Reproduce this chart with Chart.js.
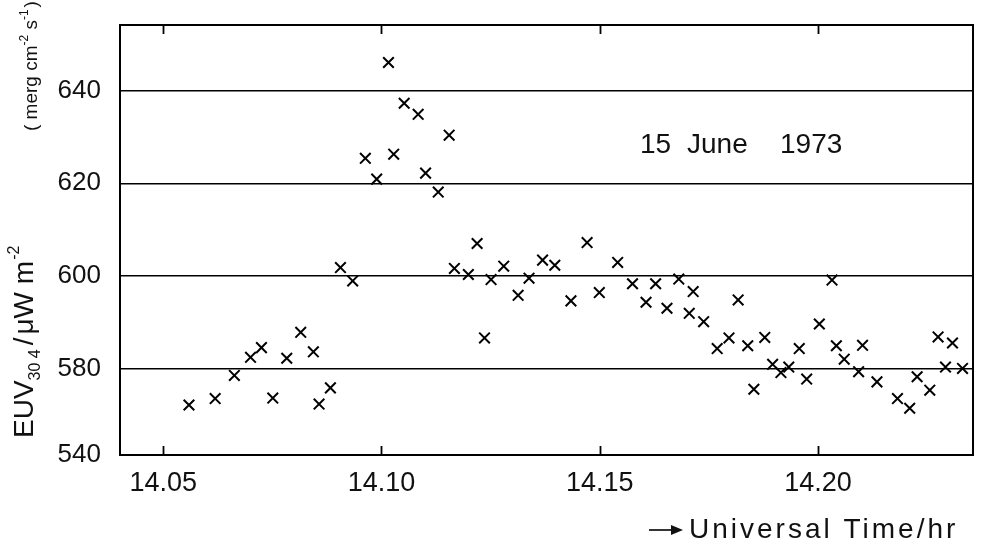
<!DOCTYPE html>
<html>
<head>
<meta charset="utf-8">
<script src="https://cdn.jsdelivr.net/npm/chart.js@4/dist/chart.umd.min.js"></script>
<style>
  html, body { margin: 0; padding: 0; background: #fff; }
  #chart { display: block; }
</style>
</head>
<body>
<canvas id="chart" width="994" height="559"></canvas>
<script>
// Universal time (hr) and EUV 304 flux readings
const times = [
  14.0559, 14.0619, 14.0663, 14.0700, 14.0725, 14.0751, 14.0783, 14.0815,
  14.0844, 14.0857, 14.0883, 14.0906, 14.0934, 14.0963, 14.0989, 14.1016,
  14.1028, 14.1052, 14.1084, 14.1101, 14.1130, 14.1155, 14.1167, 14.1199,
  14.1219, 14.1236, 14.1251, 14.1280, 14.1313, 14.1338, 14.1369, 14.1397,
  14.1434, 14.1471, 14.1499, 14.1541, 14.1575, 14.1606, 14.1628, 14.1654,
  14.1681, 14.1705, 14.1714, 14.1738, 14.1769, 14.1796, 14.1817, 14.1839,
  14.1853, 14.1878, 14.1896, 14.1915, 14.1933, 14.1957, 14.1974, 14.2003,
  14.2032, 14.2042, 14.2060, 14.2093, 14.2102, 14.2135, 14.2182, 14.2210,
  14.2227, 14.2256, 14.2275, 14.2292, 14.2308, 14.2331
];
const euv = [
  572.1, 573.5, 578.5, 582.4, 584.5, 573.6, 582.2, 587.8,
  583.6, 572.3, 575.8, 601.8, 598.9, 625.4, 620.9, 646.1,
  626.3, 637.3, 634.9, 622.2, 618.1, 630.4, 601.6, 600.3,
  607.0, 586.6, 599.2, 602.1, 595.8, 599.5, 603.4, 602.3,
  594.6, 607.2, 596.4, 602.9, 598.3, 594.3, 598.3, 593.0,
  599.3, 591.9, 596.6, 590.1, 584.3, 586.6, 594.8, 584.9,
  575.5, 586.7, 580.9, 579.1, 580.3, 584.3, 577.7, 589.6,
  599.1, 584.9, 582.0, 579.3, 585.0, 577.1, 573.5, 571.4,
  578.2, 575.3, 586.8, 580.3, 585.5, 580.0
];

const xTickValues = [14.05, 14.10, 14.15, 14.20];
const yTickValues = [580, 600, 620, 640];
// the vertical axis is broken: its bottom edge is labelled 540
const yBottom = 561.3;
const yBottomLabel = "540";
const xMin = 14.0401, xMax = 14.2355, yMax = 654.2;

const FONT = "'Liberation Sans', Arial, sans-serif";

// draws several runs of text one after another, some raised or lowered
function drawRuns(ctx, runs, x, y) {
  runs.forEach(r => {
    ctx.font = r.size + "px " + FONT;
    ctx.fillText(r.text, x, y + (r.dy || 0));
    x += ctx.measureText(r.text).width + (r.gap || 0);
  });
}

const decorations = {
  id: "decorations",
  afterDraw(chart) {
    const ctx = chart.ctx;
    const area = chart.chartArea;
    const xs = chart.scales.x;
    ctx.save();
    ctx.strokeStyle = "#000";
    ctx.fillStyle = "#111";

    // frame
    ctx.lineWidth = 2;
    ctx.strokeRect(area.left, area.top, area.right - area.left, area.bottom - area.top);

    // inward ticks on the time axis, top and bottom
    ctx.lineWidth = 1.8;
    xTickValues.forEach(v => {
      const px = Math.round(xs.getPixelForValue(v)) + 0.5;
      ctx.beginPath();
      ctx.moveTo(px, area.bottom);
      ctx.lineTo(px, area.bottom - 9);
      ctx.moveTo(px, area.top);
      ctx.lineTo(px, area.top + 9);
      ctx.stroke();
    });

    // date label
    ctx.textBaseline = "alphabetic";
    ctx.font = "28px " + FONT;
    ctx.fillText("15", 640, 153);
    ctx.fillText("June", 687, 153);
    ctx.fillText("1973", 780, 153);

    // x axis title with arrow
    ctx.lineWidth = 1.6;
    ctx.beginPath();
    ctx.moveTo(649, 530);
    ctx.lineTo(673, 530);
    ctx.stroke();
    ctx.beginPath();
    ctx.moveTo(683, 530);
    ctx.lineTo(671, 525);
    ctx.lineTo(671, 535);
    ctx.closePath();
    ctx.fill();
    ctx.font = "28px " + FONT;
    ctx.letterSpacing = "3px";
    ctx.fillText("Universal Time/hr", 689, 538);
    ctx.letterSpacing = "0px";

    // y axis titles, rotated
    ctx.save();
    ctx.translate(33, 438);
    ctx.rotate(-Math.PI / 2);
    drawRuns(ctx, [
      { text: "EUV", size: 28 },
      { text: "30 4", size: 16, dy: 7, gap: 4 },
      { text: "/", size: 28, gap: 3 },
      { text: "\u03bcW m", size: 28, gap: 1 },
      { text: "-2", size: 16, dy: -14 }
    ], 0, 0);
    ctx.restore();

    ctx.save();
    ctx.translate(37, 131);
    ctx.rotate(-Math.PI / 2);
    drawRuns(ctx, [
      { text: "( merg cm", size: 19 },
      { text: "-2", size: 12, dy: -9 },
      { text: " s", size: 19 },
      { text: "-1", size: 12, dy: -9, gap: 2 },
      { text: ")", size: 19 }
    ], 0, 0);
    ctx.restore();

    ctx.restore();
  }
};

new Chart(document.getElementById("chart").getContext("2d"), {
  type: "scatter",
  data: {
    datasets: [{
      data: times.map((t, i) => ({ x: t, y: euv[i] })),
      pointStyle: "crossRot",
      pointRadius: 7.5,
      borderColor: "#000",
      borderWidth: 2
    }]
  },
  options: {
    responsive: false,
    animation: false,
    layout: { autoPadding: false, padding: { top: 25, right: 21, left: 0, bottom: 0 } },
    plugins: { legend: { display: false }, tooltip: { enabled: false } },
    scales: {
      x: {
        type: "linear",
        min: xMin,
        max: xMax,
        afterBuildTicks: s => { s.ticks = xTickValues.map(v => ({ value: v })); },
        afterFit: s => {
          s.height = 104;
          s.paddingLeft = 0;
          s.paddingRight = 0;
        },
        grid: { display: false },
        border: { display: false },
        ticks: {
          color: "#111",
          padding: 4,
          font: { family: FONT, size: 27 },
          callback: v => v.toFixed(2)
        }
      },
      y: {
        min: yBottom,
        max: yMax,
        afterBuildTicks: s => {
          s.ticks = [yBottom].concat(yTickValues).map(v => ({ value: v }));
        },
        afterFit: s => {
          s.width = 120;
          s.paddingTop = 0;
          s.paddingBottom = 0;
        },
        grid: { color: "#000", lineWidth: 1.5, drawTicks: false },
        border: { display: false },
        ticks: {
          color: "#111",
          padding: 19,
          font: { family: FONT, size: 26 },
          callback: v => (v === yBottom ? yBottomLabel : String(v))
        }
      }
    }
  },
  plugins: [decorations]
});
</script>
</body>
</html>
